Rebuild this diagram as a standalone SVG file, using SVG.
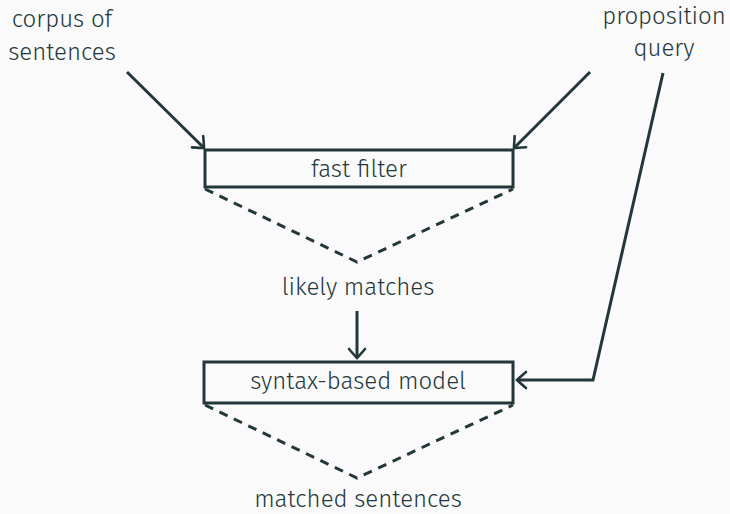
<svg xmlns="http://www.w3.org/2000/svg" width="730" height="514" viewBox="0 0 730 514">
<style>
text{font-family:"Fira Sans","Open Sans","Noto Sans",sans-serif;font-size:24px;font-weight:300;fill:#23373b;text-anchor:middle}
.box{fill:none;stroke:#23373b;stroke-width:3}
.ln{fill:none;stroke:#23373b;stroke-width:3}
.dash{fill:none;stroke:#23373b;stroke-width:3;stroke-dasharray:9 7}
</style>
<defs>
<marker id="ah" viewBox="-12 -10 14 20" refX="0" refY="0" markerWidth="14" markerHeight="20" markerUnits="userSpaceOnUse" orient="auto">
<path d="M -9 -8 Q -2 -2 0 0 Q -2 2 -9 8" fill="none" stroke="#23373b" stroke-width="2.6" stroke-linecap="round"/>
</marker>
</defs>
<rect width="730" height="514" fill="#fafafa"/>
<g id="corpus"><text x="62" y="27">corpus of</text><text x="62" y="60">sentences</text></g>
<g id="query"><text x="664" y="24">proposition</text><text x="664" y="56">query</text></g>
<g id="fastfilter"><rect class="box" x="205" y="150" width="308" height="37"/><text x="359" y="177">fast filter</text></g>
<g id="likely"><text x="358" y="295">likely matches</text></g>
<g id="syntax"><rect class="box" x="204" y="362" width="309" height="41"/><text x="358" y="389">syntax-based model</text></g>
<g id="matched"><text x="358" y="507">matched sentences</text></g>
<g id="connectors">
<line class="ln" x1="127" y1="72" x2="204" y2="148" marker-end="url(#ah)"/>
<line class="ln" x1="590" y1="72" x2="514" y2="148" marker-end="url(#ah)"/>
<polyline class="ln" points="663,73 593,380 517,380" marker-end="url(#ah)"/>
<line class="ln" x1="357" y1="311" x2="357" y2="358" marker-end="url(#ah)"/>
<polyline class="dash" points="205,189 357,262 513,189"/>
<polyline class="dash" points="205,405 357,478 513,405"/>
</g>
</svg>
